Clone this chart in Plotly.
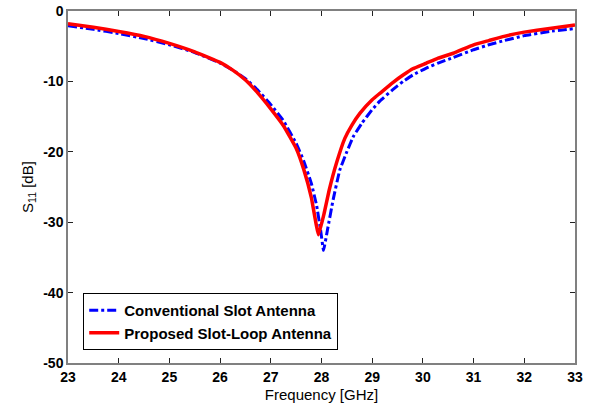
import plotly.graph_objects as go

freq_proposed = [23.0, 23.5, 24.0, 24.5, 25.0, 25.5, 26.0, 26.25, 26.5, 26.75, 27.0, 27.25, 27.5, 27.65, 27.8, 27.94,
                 28.05, 28.15, 28.3, 28.46, 28.6, 28.76, 29.0, 29.15, 29.4, 29.61, 29.8, 30.07, 30.3, 30.6, 31.0,
                 31.3, 31.6, 32.0, 32.5, 33.0]
s11_proposed = [-1.8, -2.3, -2.9, -3.6, -4.6, -5.8, -7.3, -8.4, -9.8, -11.7, -13.9, -16.3, -19.5, -22.5, -26.5, -31.8,
                -28.8, -25.5, -21.5, -18.1, -16.2, -14.5, -12.6, -11.7, -10.2, -9.1, -8.2, -7.4, -6.7, -6.0, -4.8,
                -4.2, -3.6, -3.0, -2.5, -2.0]

freq_conv = [23.0, 23.5, 24.0, 24.5, 25.0, 25.5, 26.0, 26.25, 26.5, 26.75, 27.0, 27.25, 27.5, 27.65, 27.8, 27.9, 27.98,
             28.04, 28.12, 28.23, 28.36, 28.5, 28.63, 28.8, 29.0, 29.15, 29.4, 29.61, 29.8, 30.07, 30.3, 30.6, 31.0,
             31.3, 31.6, 32.0, 32.5, 33.0]
s11_conv = [-2.1, -2.6, -3.2, -3.9, -4.8, -5.9, -7.4, -8.4, -9.6, -11.3, -13.3, -15.6, -18.8, -21.3, -24.5, -27.5, -31.0,
            -34.0, -31.0, -26.8, -22.6, -20.0, -17.8, -15.9, -14.0, -12.8, -11.2, -10.0, -9.1, -8.1, -7.4, -6.6, -5.5,
            -4.8, -4.2, -3.5, -2.9, -2.5]

x_ticks = list(range(23, 34))
y_ticks = [0, -10, -20, -30, -40, -50]

fig = go.Figure()
fig.add_trace(go.Scatter(x=freq_conv, y=s11_conv, mode="lines", name="Conventional Slot Antenna",
                         line=dict(color="#0000ff", width=3, dash="dashdot", shape="spline", smoothing=0.3)))
fig.add_trace(go.Scatter(x=freq_proposed, y=s11_proposed, mode="lines", name="Proposed Slot-Loop Antenna",
                         line=dict(color="#ff0000", width=3.5, shape="spline", smoothing=0.3)))

axis_common = dict(showgrid=False, zeroline=False, showline=True, linecolor="#808080", linewidth=1.5,
                   mirror="allticks", ticks="inside", ticklen=5, tickcolor="#222222", tickwidth=1,
                   automargin=False,
                   tickfont=dict(family="Liberation Sans, Arial", size=14, color="black", weight="bold"))

fig.update_xaxes(range=[23, 33], tickvals=x_ticks, ticktext=[str(v) for v in x_ticks],
                 title=dict(text="Frequency [GHz]", font=dict(family="Liberation Sans, Arial", size=15, color="black"),
                            standoff=6),
                 **axis_common)
fig.update_yaxes(range=[-50, 0], tickvals=y_ticks, ticktext=[str(v) for v in y_ticks],
                 title=dict(text="S<sub>11</sub> [dB]", font=dict(family="Liberation Sans, Arial", size=15, color="black"),
                            standoff=6),
                 **axis_common)

fig.update_layout(
    width=611, height=410,
    margin=dict(l=68, r=36, t=11, b=47, autoexpand=False),
    plot_bgcolor="white", paper_bgcolor="white",
    legend=dict(x=0.03, y=0.199, xanchor="left", yanchor="top",
                bordercolor="black", borderwidth=1, bgcolor="white",
                font=dict(family="Liberation Sans, Arial", size=15, color="black", weight="bold"),
                tracegroupgap=0, itemwidth=30),
)

fig.write_html("out.html", config={"displayModeBar": False},
               post_script="document.body.style.margin='0';")
